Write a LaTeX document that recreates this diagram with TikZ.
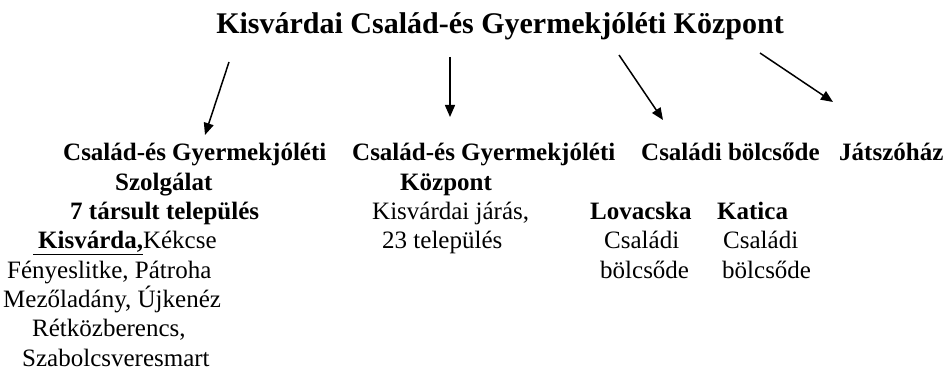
\documentclass[tikz,border=0pt]{standalone}
\usepackage{fontspec}
\setmainfont{Liberation Serif}
\usetikzlibrary{arrows.meta}

\def\firstRow{161}
\def\rowSkip{29.3}

\tikzset{
  entry/.style={anchor=base west, inner sep=0pt, font=\fontsize{25}{29.3}\selectfont},
  branch/.style={-{Triangle[length=12pt,width=10pt]}, line width=1.5pt},
}

\begin{document}
\begin{tikzpicture}[x=1pt,y=-1pt]
    \useasboundingbox (0,0) rectangle (947,374);

    \node[anchor=base, inner sep=0pt, font=\fontsize{30}{36}\selectfont\bfseries] (title) at (500,34) {Kisvárdai Család-és Gyermekjóléti Központ};

    % left column
    \foreach \i/\x/\t in {0/63/{\bfseries Család-és Gyermekjóléti}, 1/115/{\bfseries Szolgálat}, 2/70/{\bfseries 7 társult település},
        3/33/{\underline{\bfseries\hspace{5pt}Kisvárda,}Kékcse}, 4/7/{Fényeslitke, Pátroha}, 5/3/{Mezőladány, Újkenéz},
        6/32/{Rétközberencs,}, 7/22/{Szabolcsveresmart}} {
      \node[entry] (left\i) at (\x,\firstRow+\i*\rowSkip) {\t};
    }

    % middle column
    \foreach \i/\x/\t in {0/352/{\bfseries Család-és Gyermekjóléti}, 1/400/{\bfseries Központ}, 2/372/{Kisvárdai járás,}, 3/382/{23 település}} {
      \node[entry] (mid\i) at (\x,\firstRow+\i*\rowSkip) {\t};
    }

    % right columns
    \node[entry, font=\fontsize{25}{29.3}\selectfont\bfseries] (nursery) at (641,\firstRow) {Családi bölcsőde};
    \node[entry, font=\fontsize{25}{29.3}\selectfont\bfseries] (playhouse) at (839,\firstRow) {Játszóház};
    \foreach \i/\x/\t in {2/590/{\bfseries Lovacska}, 3/604/{Családi}, 4/600/{bölcsőde}} {
      \node[entry] (lovacska\i) at (\x,\firstRow+\i*\rowSkip) {\t};
    }
    \foreach \i/\x/\t in {2/717/{\bfseries Katica}, 3/723/{Családi}, 4/722/{bölcsőde}} {
      \node[entry] (katica\i) at (\x,\firstRow+\i*\rowSkip) {\t};
    }

    % arrows
    \coordinate (from1) at (229,62);   \coordinate (to1) at (205,135);
    \coordinate (from2) at (450,57);   \coordinate (to2) at (450,117);
    \coordinate (from3) at (619,55);   \coordinate (to3) at (663,120);
    \coordinate (from4) at (760,53);   \coordinate (to4) at (833,102);
    \foreach \k in {1,...,4} {
      \draw[branch] (from\k) -- (to\k);
    }
  \end{tikzpicture}
\end{document}
